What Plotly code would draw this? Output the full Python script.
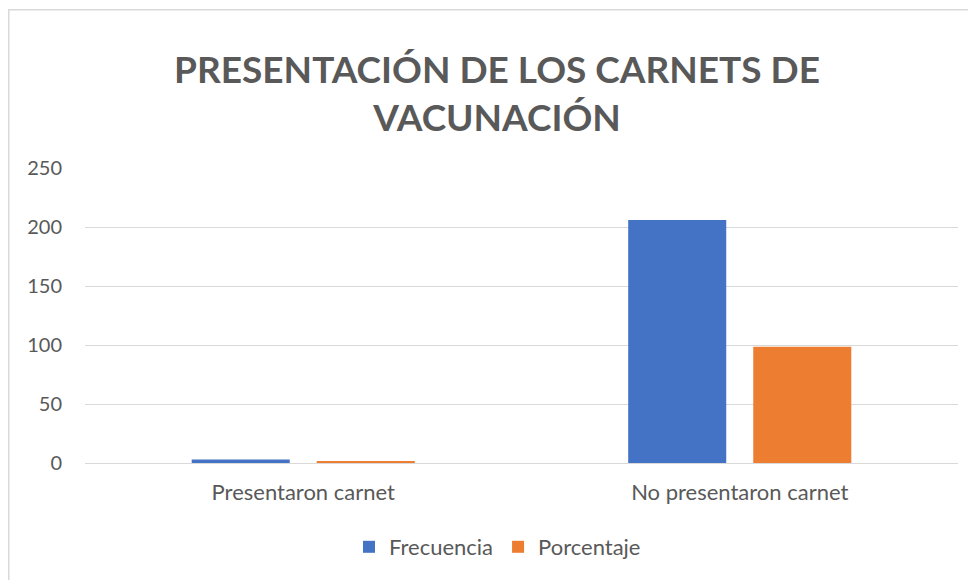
import plotly.graph_objects as go

categories = ["Presentaron carnet", "No presentaron carnet"]
frecuencia = [3, 206]
porcentaje = [1.44, 98.56]
y_ticks = [0, 50, 100, 150, 200, 250]

# page body has an 8px margin; figure coords = screen - 8
W, H = 968, 572
L, R, T, B = 77, 18, 160, 117
pw, ph = W - L - R, H - T - B

fig = go.Figure()
fig.add_trace(go.Bar(name="Frecuencia", x=categories, y=frecuencia, marker_color="#4472C4",
                     marker_line_width=0))
fig.add_trace(go.Bar(name="Porcentaje", x=categories, y=porcentaje, marker_color="#ED7D31",
                     marker_line_width=0))

fig.add_shape(type="rect", xref="paper", yref="paper",
              x0=(0.75 - L) / pw, x1=(W + 20 - L) / pw,
              y0=-(H + 20 - T - ph) / ph, y1=(H - 1.75 - B) / ph,
              line=dict(color="#D9D9D9", width=1.5), fillcolor="rgba(0,0,0,0)", layer="below")

fig.update_layout(
    width=W, height=H,
    margin=dict(l=L, r=R, t=T, b=B, pad=0, autoexpand=False),
    paper_bgcolor="white", plot_bgcolor="white",
    barmode="group", bargap=0.427, bargroupgap=0.216,
    font=dict(family="Lato, Open Sans, sans-serif", color="#595959", size=20),
    title=dict(text="PRESENTACIÓN DE LOS CARNETS DE<br>VACUNACIÓN", x=489 / W, xref="container",
               xanchor="center", y=1 - 75 / H, yanchor="middle",
               font=dict(size=37, color="#595959", family="Lato, sans-serif", weight="bold")),
    xaxis=dict(showline=False, ticks="", tickfont=dict(size=22, color="#595959"),
               showgrid=False, ticklabelstandoff=14, tickangle=0, automargin=False),
    yaxis=dict(range=[0, 250], tickvals=y_ticks, showgrid=True, gridcolor="#D9D9D9",
               gridwidth=1, zeroline=True, zerolinecolor="#D9D9D9", zerolinewidth=1,
               ticks="", ticklabelstandoff=22, tickfont=dict(size=20, color="#595959"),
               automargin=False),
    legend=dict(orientation="h", x=(489.5 - L) / pw, xanchor="center",
                y=-(539 - (H - B)) / ph, yanchor="middle",
                font=dict(size=22, color="#595959"), itemwidth=30),
)
fig.write_html("out.html")
